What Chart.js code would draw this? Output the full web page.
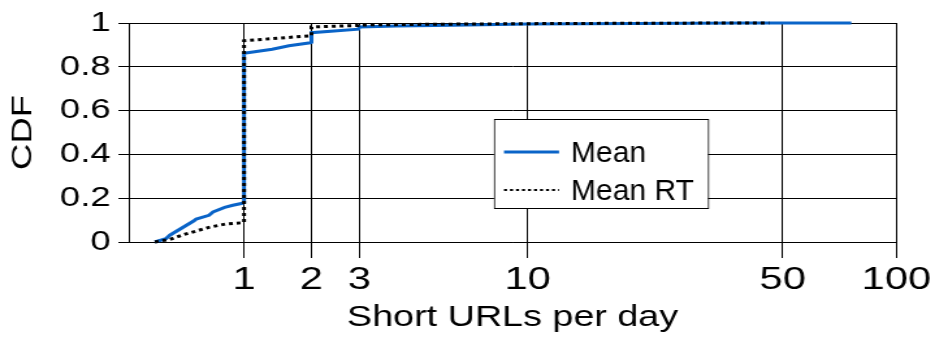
<!DOCTYPE html>
<html>
<head>
<meta charset="utf-8">
<script src="https://cdn.jsdelivr.net/npm/chart.js@4.4.0/dist/chart.umd.min.js"></script>
<style>
  html, body { margin: 0; padding: 0; background: #fff; overflow: hidden; }
  #cdf { display: block; transform-origin: 0 0; }
</style>
</head>
<body>
<canvas id="cdf" width="719" height="340"></canvas>
<script>
// values (x = short URLs per day, y = CDF)
const meanX   = [0.17, 0.25, 0.28, 0.48, 0.5, 0.62, 0.66, 0.78, 0.87, 0.98, 1, 1, 1.37, 1.62, 1.98, 2, 2, 2.98, 3, 4, 6, 10, 20, 40, 76];
const meanCdf = [0, 0.015, 0.031, 0.097, 0.105, 0.122, 0.137, 0.158, 0.168, 0.177, 0.18, 0.862, 0.88, 0.896, 0.91, 0.912, 0.956, 0.972, 0.982, 0.986, 0.99, 0.995, 0.998, 1, 1];

const meanRtX   = [0.17, 0.28, 0.38, 0.5, 0.62, 0.79, 0.98, 1, 1, 1.95, 2, 2, 2.98, 3, 5, 10, 20, 46];
const meanRtCdf = [0, 0.012, 0.032, 0.05, 0.067, 0.082, 0.088, 0.09, 0.919, 0.941, 0.941, 0.982, 0.989, 0.991, 0.994, 0.997, 0.999, 1];

const seriesNames = ['Mean', 'Mean RT'];
const xTickValues = [1, 2, 3, 10, 50, 100];
const xTitle = 'Short URLs per day';
const yTitle = 'CDF';

// the original figure uses wide lettering, so the canvas is drawn narrow and stretched
const stretch = 935 / 719;
const fontFamily = '"Liberation Sans", Arial, Helvetica, sans-serif';

const canvas = document.getElementById('cdf');
canvas.style.transform = 'scaleX(' + stretch + ')';

// axis is log10(x + 1)
const logp = v => Math.log10(v + 1);
const toPoints = (xs, ys) => xs.map((v, i) => ({ x: logp(v), y: ys[i] }));

const extras = {
  id: 'extras',
  afterDraw(chart) {
    const c = chart.ctx;
    const a = chart.chartArea;
    c.save();
    c.scale(1 / stretch, 1); // work in page pixels from here

    // y axis title
    c.save();
    c.translate(23, (a.top + a.bottom) / 2);
    c.rotate(-Math.PI / 2);
    c.scale(1.3, 1);
    c.font = '28px ' + fontFamily;
    c.fillStyle = '#000';
    c.textAlign = 'center';
    c.textBaseline = 'middle';
    c.fillText(yTitle, 0, 0);
    c.restore();

    // legend box
    const bx = Math.round(a.left * stretch + 365);
    const by = Math.round(a.top + 96);
    c.fillStyle = '#fff';
    c.fillRect(bx, by, 214, 89);
    c.strokeStyle = '#000';
    c.lineWidth = 1;
    c.strokeRect(bx + 0.5, by + 0.5, 214, 89);

    chart.data.datasets.forEach((ds, i) => {
      const y = by + 33 + i * 38;
      c.beginPath();
      c.strokeStyle = ds.borderColor;
      c.lineWidth = ds.borderDash ? 2 : 3;
      c.setLineDash(ds.borderDash || []);
      c.moveTo(bx + 10, y);
      c.lineTo(bx + 65, y);
      c.stroke();
      c.setLineDash([]);
      c.fillStyle = '#000';
      c.font = '30px ' + fontFamily;
      c.textAlign = 'left';
      c.textBaseline = 'middle';
      c.fillText(ds.label, bx + 77, y + 2);
    });
    c.restore();
  }
};

new Chart(canvas.getContext('2d'), {
  type: 'line',
  data: {
    datasets: [
      {
        label: seriesNames[0],
        data: toPoints(meanX, meanCdf),
        borderColor: '#0a64c8',
        borderWidth: 3,
        pointRadius: 0,
        tension: 0,
        order: 2,
        clip: false
      },
      {
        label: seriesNames[1],
        data: toPoints(meanRtX, meanRtCdf),
        borderColor: '#000',
        borderWidth: 3,
        borderDash: [3, 3],
        pointRadius: 0,
        tension: 0,
        order: 1,
        clip: false
      }
    ]
  },
  options: {
    responsive: false,
    animation: false,
    layout: { padding: { top: 23, right: 27, left: 0, bottom: 0 } },
    plugins: {
      legend: { display: false },
      tooltip: { enabled: false }
    },
    scales: {
      x: {
        type: 'linear',
        min: 0,
        max: logp(100),
        afterBuildTicks: s => { s.ticks = xTickValues.map(v => ({ value: logp(v) })); },
        afterFit: s => { s.height = 98; },
        grid: { color: '#000', lineWidth: 1, tickLength: 16 },
        border: { color: '#000', width: 1 },
        ticks: {
          autoSkip: false,
          maxRotation: 0,
          color: '#000',
          padding: 3,
          font: { family: fontFamily, size: 32 },
          callback: v => String(Math.round(Math.pow(10, v) - 1))
        },
        title: {
          display: true,
          text: xTitle,
          color: '#000',
          font: { family: fontFamily, size: 29 },
          padding: { top: 0, bottom: 5 }
        }
      },
      y: {
        min: 0,
        max: 1,
        afterFit: s => { s.width = 99; },
        grid: { color: '#000', lineWidth: 1, tickLength: 8 },
        border: { color: '#000', width: 1 },
        ticks: {
          stepSize: 0.2,
          color: '#000',
          padding: 6,
          font: { family: fontFamily, size: 28 },
          callback: v => String(Math.round(v * 10) / 10)
        }
      }
    }
  },
  plugins: [extras]
});
</script>
</body>
</html>
